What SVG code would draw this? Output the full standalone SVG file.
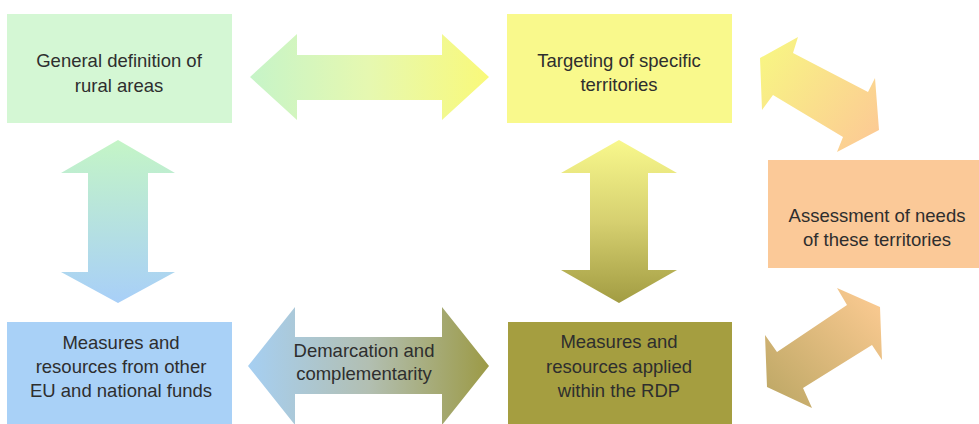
<svg xmlns="http://www.w3.org/2000/svg" width="979" height="424" viewBox="0 0 979 424">
  <defs>
    <linearGradient id="gTop" x1="0" y1="0" x2="1" y2="0">
      <stop offset="0" stop-color="#c6f4c8"/>
      <stop offset="0.5" stop-color="#e6f8b0"/>
      <stop offset="1" stop-color="#f9f97a"/>
    </linearGradient>
    <linearGradient id="gBottom" x1="0" y1="0" x2="1" y2="0">
      <stop offset="0" stop-color="#a6cff2"/>
      <stop offset="0.5" stop-color="#b2bfb2"/>
      <stop offset="1" stop-color="#9c9a46"/>
    </linearGradient>
    <linearGradient id="gLeft" x1="0" y1="0" x2="0" y2="1">
      <stop offset="0" stop-color="#c4f5c6"/>
      <stop offset="1" stop-color="#a8cff8"/>
    </linearGradient>
    <linearGradient id="gMid" x1="0" y1="0" x2="0" y2="1">
      <stop offset="0" stop-color="#f8f88c"/>
      <stop offset="0.5" stop-color="#d6d070"/>
      <stop offset="1" stop-color="#a29c42"/>
    </linearGradient>
    <linearGradient id="gDiagTop" gradientUnits="userSpaceOnUse" x1="765" y1="55" x2="875" y2="135">
      <stop offset="0" stop-color="#f8f484"/>
      <stop offset="1" stop-color="#fccb94"/>
    </linearGradient>
    <linearGradient id="gDiagBottom" gradientUnits="userSpaceOnUse" x1="875" y1="300" x2="770" y2="400">
      <stop offset="0" stop-color="#f9c990"/>
      <stop offset="1" stop-color="#bea866"/>
    </linearGradient>
    <style>
      .lbl { font-family: "Liberation Sans", Arial, sans-serif; font-size: 18.5px; fill: #2e2e2e; text-anchor: middle; }
    </style>
  </defs>

  <rect width="979" height="424" fill="#ffffff"/>

  <!-- double-headed arrows between the boxes -->
  <g id="connectors">
    <polygon fill="url(#gTop)" points="250,77 297,34 297,55 442,55 442,34 489,77 442,120 442,100 297,100 297,120"/>
    <polygon fill="url(#gLeft)" points="118,140 61,173 88,173 88,272 61,272 118,303 175,272 148,272 148,173 175,173"/>
    <polygon fill="url(#gMid)" points="619,140 561,173 590,173 590,270 561,270 619,303 677,270 648,270 648,173 677,173"/>
    <polygon fill="url(#gDiagTop)" points="798,37 793,53 868,92 875,78 879,130 837,152 843,137 773,95 762,110 760,58"/>
    <polygon fill="url(#gDiagBottom)" points="837,288 880,307 882,360 872,345 803,388 812,408 767,387 765,335 777,352 847,305"/>
    <g id="demarcation">
      <polygon fill="url(#gBottom)" points="248,366 295,307 295,337 442,337 442,307 489,366 442,425 442,394 295,394 295,425"/>
      <text class="lbl" x="364" y="357">Demarcation and</text>
      <text class="lbl" x="364" y="380">complementarity</text>
    </g>
  </g>

  <g id="general-definition">
    <rect x="7" y="14" width="225" height="109" fill="#d4f7d4"/>
    <text class="lbl" x="119" y="67">General definition of</text>
    <text class="lbl" x="119" y="92">rural areas</text>
  </g>

  <g id="targeting">
    <rect x="507" y="14" width="225" height="109" fill="#f9f98c"/>
    <text class="lbl" x="619" y="67">Targeting of specific</text>
    <text class="lbl" x="619" y="91">territories</text>
  </g>

  <g id="assessment">
    <rect x="768" y="160" width="211" height="108" fill="#fbc998"/>
    <text class="lbl" x="877" y="222">Assessment of needs</text>
    <text class="lbl" x="877" y="246">of these territories</text>
  </g>

  <g id="rdp-measures">
    <rect x="508" y="322" width="224" height="102" fill="#a59e40"/>
    <text class="lbl" x="619" y="348">Measures and</text>
    <text class="lbl" x="619" y="373">resources applied</text>
    <text class="lbl" x="619" y="397">within the RDP</text>
  </g>

  <g id="other-funds">
    <rect x="7" y="322" width="225" height="102" fill="#a9d1f7"/>
    <text class="lbl" x="121" y="349">Measures and</text>
    <text class="lbl" x="121" y="373">resources from other</text>
    <text class="lbl" x="121" y="397">EU and national funds</text>
  </g>
</svg>
